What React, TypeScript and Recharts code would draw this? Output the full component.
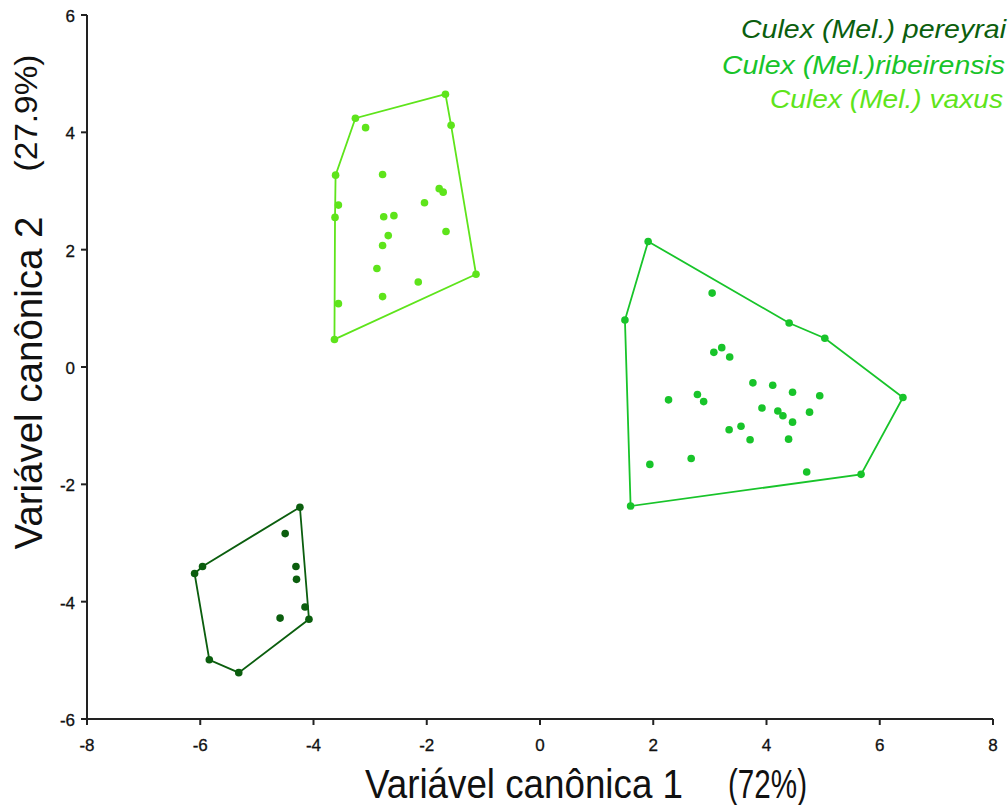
import type { JSX } from 'react';
import {
  Legend,
  Scatter,
  ScatterChart,
  XAxis,
  YAxis,
} from 'recharts';

interface Pt {
  x: number;
  y: number;
}

// canonical scores per species
const pereyraiPoints: Pt[] = [
  { x: -4.24, y: -2.39 },
  { x: -4.5, y: -2.84 },
  { x: -5.96, y: -3.4 },
  { x: -6.1, y: -3.52 },
  { x: -4.31, y: -3.4 },
  { x: -4.3, y: -3.62 },
  { x: -4.15, y: -4.09 },
  { x: -4.59, y: -4.28 },
  { x: -4.08, y: -4.3 },
  { x: -5.84, y: -4.99 },
  { x: -5.32, y: -5.21 },
];

const ribeirensisPoints: Pt[] = [
  { x: 1.91, y: 2.14 },
  { x: 3.04, y: 1.26 },
  { x: 1.5, y: 0.8 },
  { x: 4.4, y: 0.75 },
  { x: 5.03, y: 0.49 },
  { x: 3.21, y: 0.33 },
  { x: 3.07, y: 0.25 },
  { x: 3.35, y: 0.17 },
  { x: 3.76, y: -0.27 },
  { x: 4.11, y: -0.31 },
  { x: 4.46, y: -0.43 },
  { x: 4.94, y: -0.49 },
  { x: 6.41, y: -0.52 },
  { x: 2.27, y: -0.56 },
  { x: 2.78, y: -0.47 },
  { x: 2.89, y: -0.59 },
  { x: 3.92, y: -0.7 },
  { x: 4.2, y: -0.75 },
  { x: 4.29, y: -0.83 },
  { x: 4.76, y: -0.77 },
  { x: 4.46, y: -0.94 },
  { x: 3.55, y: -1.01 },
  { x: 3.34, y: -1.07 },
  { x: 3.71, y: -1.24 },
  { x: 4.39, y: -1.23 },
  { x: 2.67, y: -1.56 },
  { x: 1.94, y: -1.66 },
  { x: 4.71, y: -1.79 },
  { x: 5.67, y: -1.83 },
  { x: 1.6, y: -2.37 },
];

const vaxusPoints: Pt[] = [
  { x: -1.67, y: 4.65 },
  { x: -3.26, y: 4.24 },
  { x: -3.08, y: 4.08 },
  { x: -1.57, y: 4.12 },
  { x: -3.61, y: 3.27 },
  { x: -2.78, y: 3.28 },
  { x: -1.78, y: 3.04 },
  { x: -1.71, y: 2.98 },
  { x: -3.56, y: 2.76 },
  { x: -2.04, y: 2.8 },
  { x: -3.62, y: 2.55 },
  { x: -2.76, y: 2.56 },
  { x: -2.58, y: 2.58 },
  { x: -1.66, y: 2.31 },
  { x: -2.68, y: 2.24 },
  { x: -2.78, y: 2.07 },
  { x: -2.88, y: 1.68 },
  { x: -1.13, y: 1.58 },
  { x: -2.15, y: 1.45 },
  { x: -2.78, y: 1.2 },
  { x: -3.56, y: 1.08 },
  { x: -3.63, y: 0.47 },
];

// convex hull vertices, as indices into the point lists (closed loop)
const pereyraiHull = [0, 8, 10, 9, 3, 2, 0];
const ribeirensisHull = [0, 3, 4, 12, 28, 29, 2, 0];
const vaxusHull = [21, 10, 4, 1, 0, 3, 17, 21];

const xTicks = [-8, -6, -4, -2, 0, 2, 4, 6, 8];
const yTicks = [-6, -4, -2, 0, 2, 4, 6];

const FONT = '"Liberation Sans", Arial, sans-serif';
const AXIS_COLOR = '#222';

const groups = [
  { name: 'Culex (Mel.) pereyrai', color: '#0b5e0e', points: pereyraiPoints, hull: pereyraiHull, textLength: 265 },
  { name: 'Culex (Mel.)ribeirensis', color: '#18c42a', points: ribeirensisPoints, hull: ribeirensisHull, textLength: 283 },
  { name: 'Culex (Mel.) vaxus', color: '#5ee41b', points: vaxusPoints, hull: vaxusHull, textLength: 233 },
];

const legendRight = [1006, 1005, 1003];
const legendBaseline = [38, 74, 108];

function Dot(props: { cx?: number; cy?: number; fill?: string }): JSX.Element {
  return <circle cx={props.cx} cy={props.cy} r={3.8} fill={props.fill} />;
}

function NoDot(): JSX.Element {
  return <g />;
}

interface TickProps {
  x?: number;
  y?: number;
  payload?: { value: number };
}

function XTick({ x = 0, y = 0, payload }: TickProps): JSX.Element {
  return (
    <text
      x={x}
      y={y + 12}
      textAnchor="middle"
      fontFamily={FONT}
      fontSize={17}
      fill="#111"
      stroke="#111"
      strokeWidth={0.3}
    >
      {payload?.value}
    </text>
  );
}

function YTick({ x = 0, y = 0, payload }: TickProps): JSX.Element {
  return (
    <text
      x={x}
      y={y + 7}
      textAnchor="end"
      fontFamily={FONT}
      fontSize={17}
      fill="#111"
      stroke="#111"
      strokeWidth={0.3}
    >
      {payload?.value}
    </text>
  );
}

interface Box {
  x: number;
  y: number;
  width: number;
  height: number;
}

function XTitle({ viewBox }: { viewBox?: Box }): JSX.Element | null {
  if (!viewBox) return null;
  const base = viewBox.y + 79;
  return (
    <g fontFamily={FONT} fontSize={40} fill="#111">
      <text x={viewBox.x + 278} y={base} textLength={318} lengthAdjust="spacingAndGlyphs">
        Variável canônica 1
      </text>
      <text x={viewBox.x + 641} y={base} textLength={79} lengthAdjust="spacingAndGlyphs">
        (72%)
      </text>
    </g>
  );
}

function YTitle({ viewBox }: { viewBox?: Box }): JSX.Element | null {
  if (!viewBox) return null;
  const mainX = viewBox.x + 15;
  const mainY = viewBox.y + 368;
  const pctX = viewBox.x + 10;
  const pctY = viewBox.y + 98;
  return (
    <g fontFamily={FONT} fill="#111">
      <text
        x={mainX}
        y={mainY}
        fontSize={39}
        textAnchor="middle"
        textLength={333}
        lengthAdjust="spacingAndGlyphs"
        transform={`rotate(-90, ${mainX}, ${mainY})`}
      >
        Variável canônica 2
      </text>
      <text
        x={pctX}
        y={pctY}
        fontSize={32}
        textAnchor="middle"
        textLength={117}
        lengthAdjust="spacingAndGlyphs"
        transform={`rotate(-90, ${pctX}, ${pctY})`}
      >
        (27.9%)
      </text>
    </g>
  );
}

function SpeciesLegend(): JSX.Element {
  return (
    <svg width={1008} height={120} style={{ display: 'block' }}>
      {groups.map((g, i) => (
        <text
          key={g.name}
          x={legendRight[i]}
          y={legendBaseline[i]}
          textAnchor="end"
          fontFamily={FONT}
          fontStyle="italic"
          fontSize={25}
          fill={g.color}
          textLength={g.textLength}
          lengthAdjust="spacingAndGlyphs"
        >
          {g.name}
        </text>
      ))}
    </svg>
  );
}

export default function App(): JSX.Element {
  return (
    <div style={{ position: 'absolute', left: 0, top: 0, width: 1008, height: 805, background: '#fff' }}>
      <ScatterChart width={1008} height={805} margin={{ top: 15, right: 15, bottom: 46, left: 27 }}>
        <XAxis
          type="number"
          dataKey="x"
          domain={[-8, 8]}
          ticks={xTicks}
          allowDataOverflow
          height={40}
          tick={<XTick />}
          tickSize={6}
          tickMargin={14}
          stroke={AXIS_COLOR}
          strokeWidth={2}
          label={<XTitle />}
        />
        <YAxis
          type="number"
          dataKey="y"
          domain={[-6, 6]}
          ticks={yTicks}
          allowDataOverflow
          width={60}
          tick={<YTick />}
          tickSize={6}
          tickMargin={6}
          stroke={AXIS_COLOR}
          strokeWidth={2}
          label={<YTitle />}
        />
        <Legend
          layout="vertical"
          align="center"
          verticalAlign="middle"
          content={<SpeciesLegend />}
          wrapperStyle={{ position: 'absolute', top: 0, left: 0, right: 'auto', bottom: 'auto', width: 1008, height: 120, margin: 0 }}
        />
        {groups.map((g) => (
          <Scatter
            key={`${g.name}-hull`}
            name={`${g.name} hull`}
            data={g.hull.map((i) => g.points[i])}
            line={{ stroke: g.color, strokeWidth: 1.8 }}
            lineType="joint"
            shape={<NoDot />}
            legendType="none"
            isAnimationActive={false}
          />
        ))}
        {groups.map((g) => (
          <Scatter
            key={g.name}
            name={g.name}
            data={g.points}
            fill={g.color}
            shape={<Dot />}
            isAnimationActive={false}
          />
        ))}
      </ScatterChart>
    </div>
  );
}
